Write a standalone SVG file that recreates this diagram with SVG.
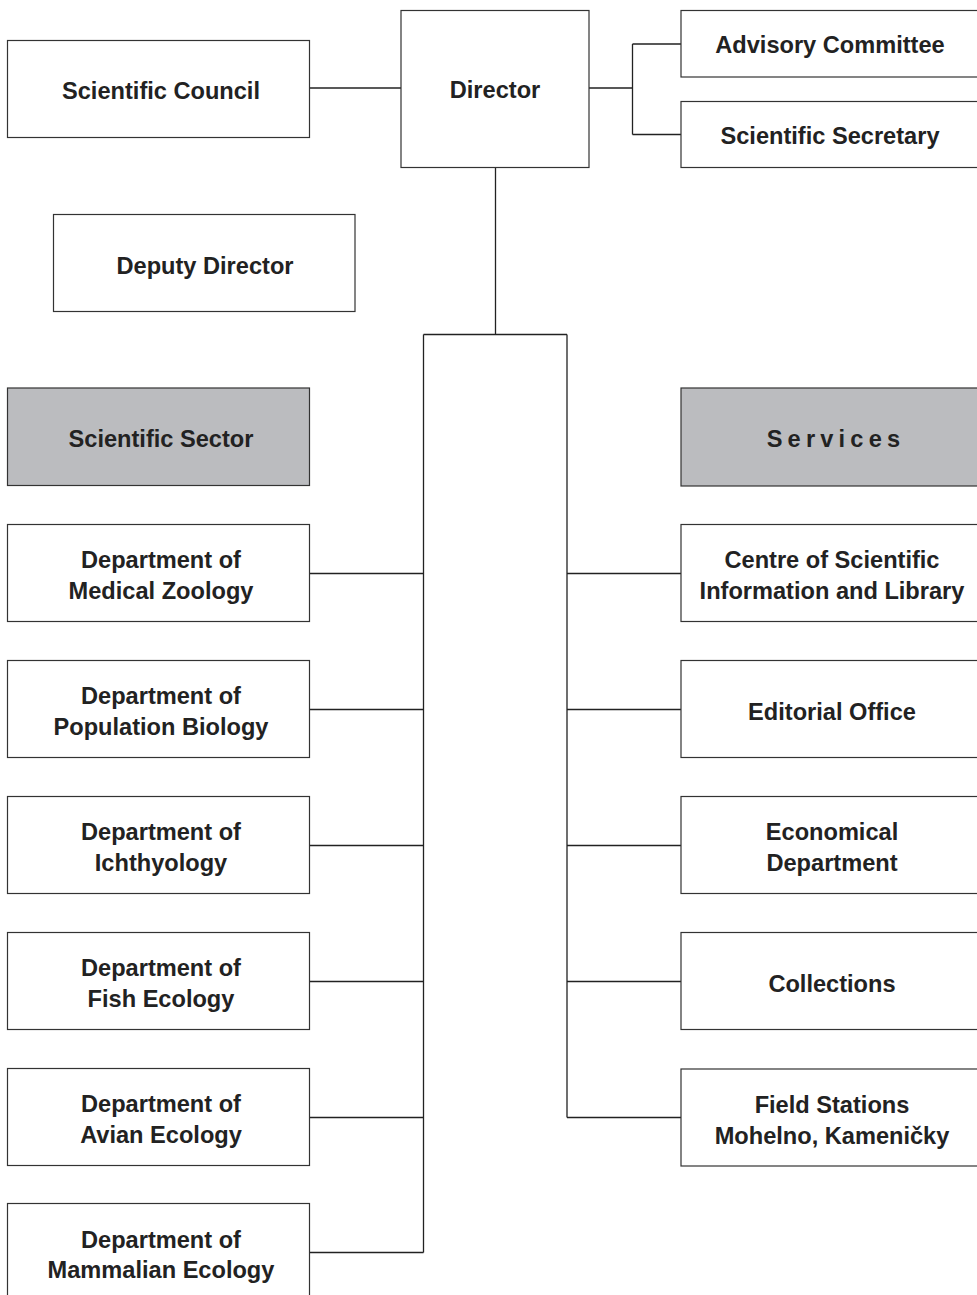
<svg xmlns="http://www.w3.org/2000/svg" width="977" height="1295" viewBox="0 0 977 1295">
<style>
.box{fill:#fff;stroke:#333;stroke-width:1.2}
.grey{fill:#bbbcbf;stroke:#333;stroke-width:1.2}
.t{font-family:"Liberation Sans",Arial,sans-serif;font-weight:bold;font-size:23.6px;fill:#222;text-anchor:middle}
.ln{fill:none;stroke:#222;stroke-width:1.3}
</style>
<rect width="977" height="1295" fill="#fff"/>
<g id="connectors">
<path class="ln" d="M309.5 88H401"/>
<path class="ln" d="M589 88H632.5M632.5 44V134.5M632.5 44H681M632.5 134.5H681"/>
<path class="ln" d="M495.5 168V334.5M423.5 334.5H567M423.5 334.5V1252.5M567 334.5V1117.5"/>
<path class="ln" d="M309.5 573.5H423.5M309.5 709.5H423.5M309.5 845.5H423.5M309.5 981.5H423.5M309.5 1117.5H423.5M309.5 1252.5H423.5"/>
<path class="ln" d="M567 573.5H681M567 709.5H681M567 845.5H681M567 981.5H681M567 1117.5H681"/>
</g>
<g id="scientific-council"><rect class="box" x="7.5" y="40.5" width="302" height="97"/><text class="t" x="161" y="99">Scientific Council</text></g>
<g id="director"><rect class="box" x="401" y="10.5" width="188" height="157"/><text class="t" x="495" y="98">Director</text></g>
<g id="advisory-committee"><rect class="box" x="681" y="10.5" width="310" height="66.5"/><text class="t" x="830" y="53">Advisory Committee</text></g>
<g id="scientific-secretary"><rect class="box" x="681" y="101.5" width="310" height="66"/><text class="t" x="830" y="144">Scientific Secretary</text></g>
<g id="deputy-director"><rect class="box" x="53.5" y="214.5" width="301.5" height="97"/><text class="t" x="205" y="274">Deputy Director</text></g>
<g id="scientific-sector"><rect class="grey" x="7.5" y="388" width="302" height="97.5"/><text class="t" x="161" y="447">Scientific Sector</text></g>
<g id="services"><rect class="grey" x="681" y="388" width="310" height="98"/><text class="t" x="836" y="447" letter-spacing="5.2">Services</text></g>
<g id="dept-medical-zoology"><rect class="box" x="7.5" y="524.5" width="302" height="97"/><text class="t" x="161" y="568">Department of</text><text class="t" x="161" y="599">Medical Zoology</text></g>
<g id="dept-population-biology"><rect class="box" x="7.5" y="660.5" width="302" height="97"/><text class="t" x="161" y="704">Department of</text><text class="t" x="161" y="735">Population Biology</text></g>
<g id="dept-ichthyology"><rect class="box" x="7.5" y="796.5" width="302" height="97"/><text class="t" x="161" y="840">Department of</text><text class="t" x="161" y="871">Ichthyology</text></g>
<g id="dept-fish-ecology"><rect class="box" x="7.5" y="932.5" width="302" height="97"/><text class="t" x="161" y="976">Department of</text><text class="t" x="161" y="1007">Fish Ecology</text></g>
<g id="dept-avian-ecology"><rect class="box" x="7.5" y="1068.5" width="302" height="97"/><text class="t" x="161" y="1112">Department of</text><text class="t" x="161" y="1143">Avian Ecology</text></g>
<g id="dept-mammalian-ecology"><rect class="box" x="7.5" y="1203.5" width="302" height="100"/><text class="t" x="161" y="1248">Department of</text><text class="t" x="161" y="1278">Mammalian Ecology</text></g>
<g id="centre-scientific-information"><rect class="box" x="681" y="524.5" width="310" height="97"/><text class="t" x="832" y="568">Centre of Scientific</text><text class="t" x="832" y="599">Information and Library</text></g>
<g id="editorial-office"><rect class="box" x="681" y="660.5" width="310" height="97"/><text class="t" x="832" y="720">Editorial Office</text></g>
<g id="economical-department"><rect class="box" x="681" y="796.5" width="310" height="97"/><text class="t" x="832" y="840">Economical</text><text class="t" x="832" y="871">Department</text></g>
<g id="collections"><rect class="box" x="681" y="932.5" width="310" height="97"/><text class="t" x="832" y="992">Collections</text></g>
<g id="field-stations"><rect class="box" x="681" y="1069" width="310" height="97"/><text class="t" x="832" y="1113">Field Stations</text><text class="t" x="832" y="1144">Mohelno, Kameničky</text></g>
</svg>
